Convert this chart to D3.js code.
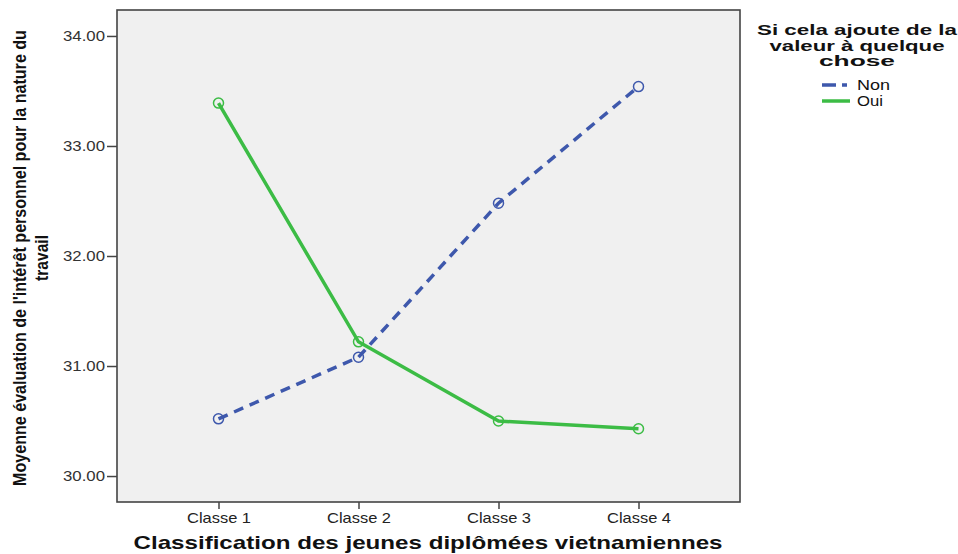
<!DOCTYPE html>
<html><head><meta charset="utf-8">
<script src="https://cdn.jsdelivr.net/npm/d3@7"></script>
<style>body{margin:0;background:#fff}svg{display:block}</style>
</head><body>
<svg id="c" width="958" height="554"></svg>
<script>
const categories = ["Classe 1","Classe 2","Classe 3","Classe 4"];
const nonValues = [30.52, 31.08, 32.48, 33.54];
const ouiValues = [33.39, 31.22, 30.50, 30.43];
const yTicks = [30, 31, 32, 33, 34];
const seriesNames = ["Non","Oui"];
const yTitle = ["Moyenne évaluation de l'intérêt personnel pour la nature du","travail"];
const xTitle = "Classification des jeunes diplômées vietnamiennes";
const legendTitle = ["Si cela ajoute de la","valeur à quelque","chose"];

const svg = d3.select("#c");
const L=117, R=740, T=10, B=502;
const x = d3.scalePoint().domain(categories).range([L,R]).padding(0.725);
const y = d3.scaleLinear().domain([29.764,34.236]).range([B,T]);
const FONT = "Liberation Sans, Arial, sans-serif";

svg.append("rect").attr("x",L).attr("y",T).attr("width",R-L).attr("height",B-T)
  .attr("fill","#f0f0f0").attr("stroke","#444").attr("stroke-width",1.6);

const yAxis = svg.append("g").attr("transform",`translate(${L},0)`)
  .call(d3.axisLeft(y).tickValues(yTicks).tickFormat(d3.format(".2f")).tickSize(10).tickPadding(2));
yAxis.select(".domain").remove();
yAxis.selectAll("line").attr("stroke","#444").attr("stroke-width",1.5);
yAxis.selectAll("text").attr("font-family",FONT).attr("font-size",14).attr("fill","#333")
  .attr("textLength",42).attr("lengthAdjust","spacingAndGlyphs");

const xAxis = svg.append("g").attr("transform",`translate(0,${B})`)
  .call(d3.axisBottom(x).tickSize(7).tickPadding(4));
xAxis.select(".domain").remove();
xAxis.selectAll("line").attr("stroke","#444").attr("stroke-width",1.5);
xAxis.selectAll("text").attr("font-family",FONT).attr("font-size",14.5).attr("fill","#222")
  .attr("textLength",64).attr("lengthAdjust","spacingAndGlyphs");

svg.append("text").attr("x",428).attr("y",549).attr("text-anchor","middle")
  .attr("font-family",FONT).attr("font-weight","bold")
  .attr("font-size",18.5).attr("textLength",589).attr("lengthAdjust","spacingAndGlyphs").attr("fill","#111").text(xTitle);

// rotated y title, compressed along its length to fit
const ytG = svg.append("g").attr("transform","translate(0,258) rotate(-90)");
[0,1].forEach(i=>{
  const t = ytG.append("text").attr("text-anchor","middle").attr("font-family",FONT)
    .attr("font-weight","bold").attr("font-size",18.5).attr("fill","#111")
    .attr("y", i===0?26:48).text(yTitle[i]);
  const target = i===0?456:46;
  const len = t.node().getComputedTextLength();
  t.attr("transform",`scale(${target/len},1)`);
});

const series = [
  {name:"Non", values:nonValues, color:"#3e58ac", dash:"10,7"},
  {name:"Oui", values:ouiValues, color:"#3cbc45", dash:null}
];
const line = d3.line().x((d,i)=>x(categories[i])).y(d=>y(d));
series.forEach(s=>{
  svg.append("path").datum(s.values).attr("d",line).attr("fill","none")
    .attr("stroke",s.color).attr("stroke-width",3.5).attr("stroke-dasharray",s.dash);
  svg.selectAll(null).data(s.values).enter().append("circle")
    .attr("cx",(d,i)=>x(categories[i])).attr("cy",d=>y(d)).attr("r",5)
    .attr("fill","none").attr("stroke",s.color).attr("stroke-width",1.5);
});

const ltWidths = [200,175,76];
legendTitle.forEach((t,i)=>{
  svg.append("text").attr("text-anchor","middle").attr("font-family",FONT)
    .attr("font-weight","bold").attr("font-size",15).attr("fill","#111")
    .attr("x",857).attr("y",35+i*15.5).attr("textLength",ltWidths[i])
    .attr("lengthAdjust","spacingAndGlyphs").text(t);
});
series.forEach((s,i)=>{
  const ly = 85+i*16;
  svg.append("line").attr("x1",822).attr("x2",850).attr("y1",ly).attr("y2",ly)
    .attr("stroke",s.color).attr("stroke-width",3.5).attr("stroke-dasharray",s.name==="Non"?"14,6,5,10":null);
  svg.append("text").attr("x",857).attr("y",ly+5).attr("font-family",FONT)
    .attr("font-size",14).attr("fill","#111").attr("textLength",s.name==="Non"?33:26)
    .attr("lengthAdjust","spacingAndGlyphs").text(s.name);
});
</script>
</body></html>
